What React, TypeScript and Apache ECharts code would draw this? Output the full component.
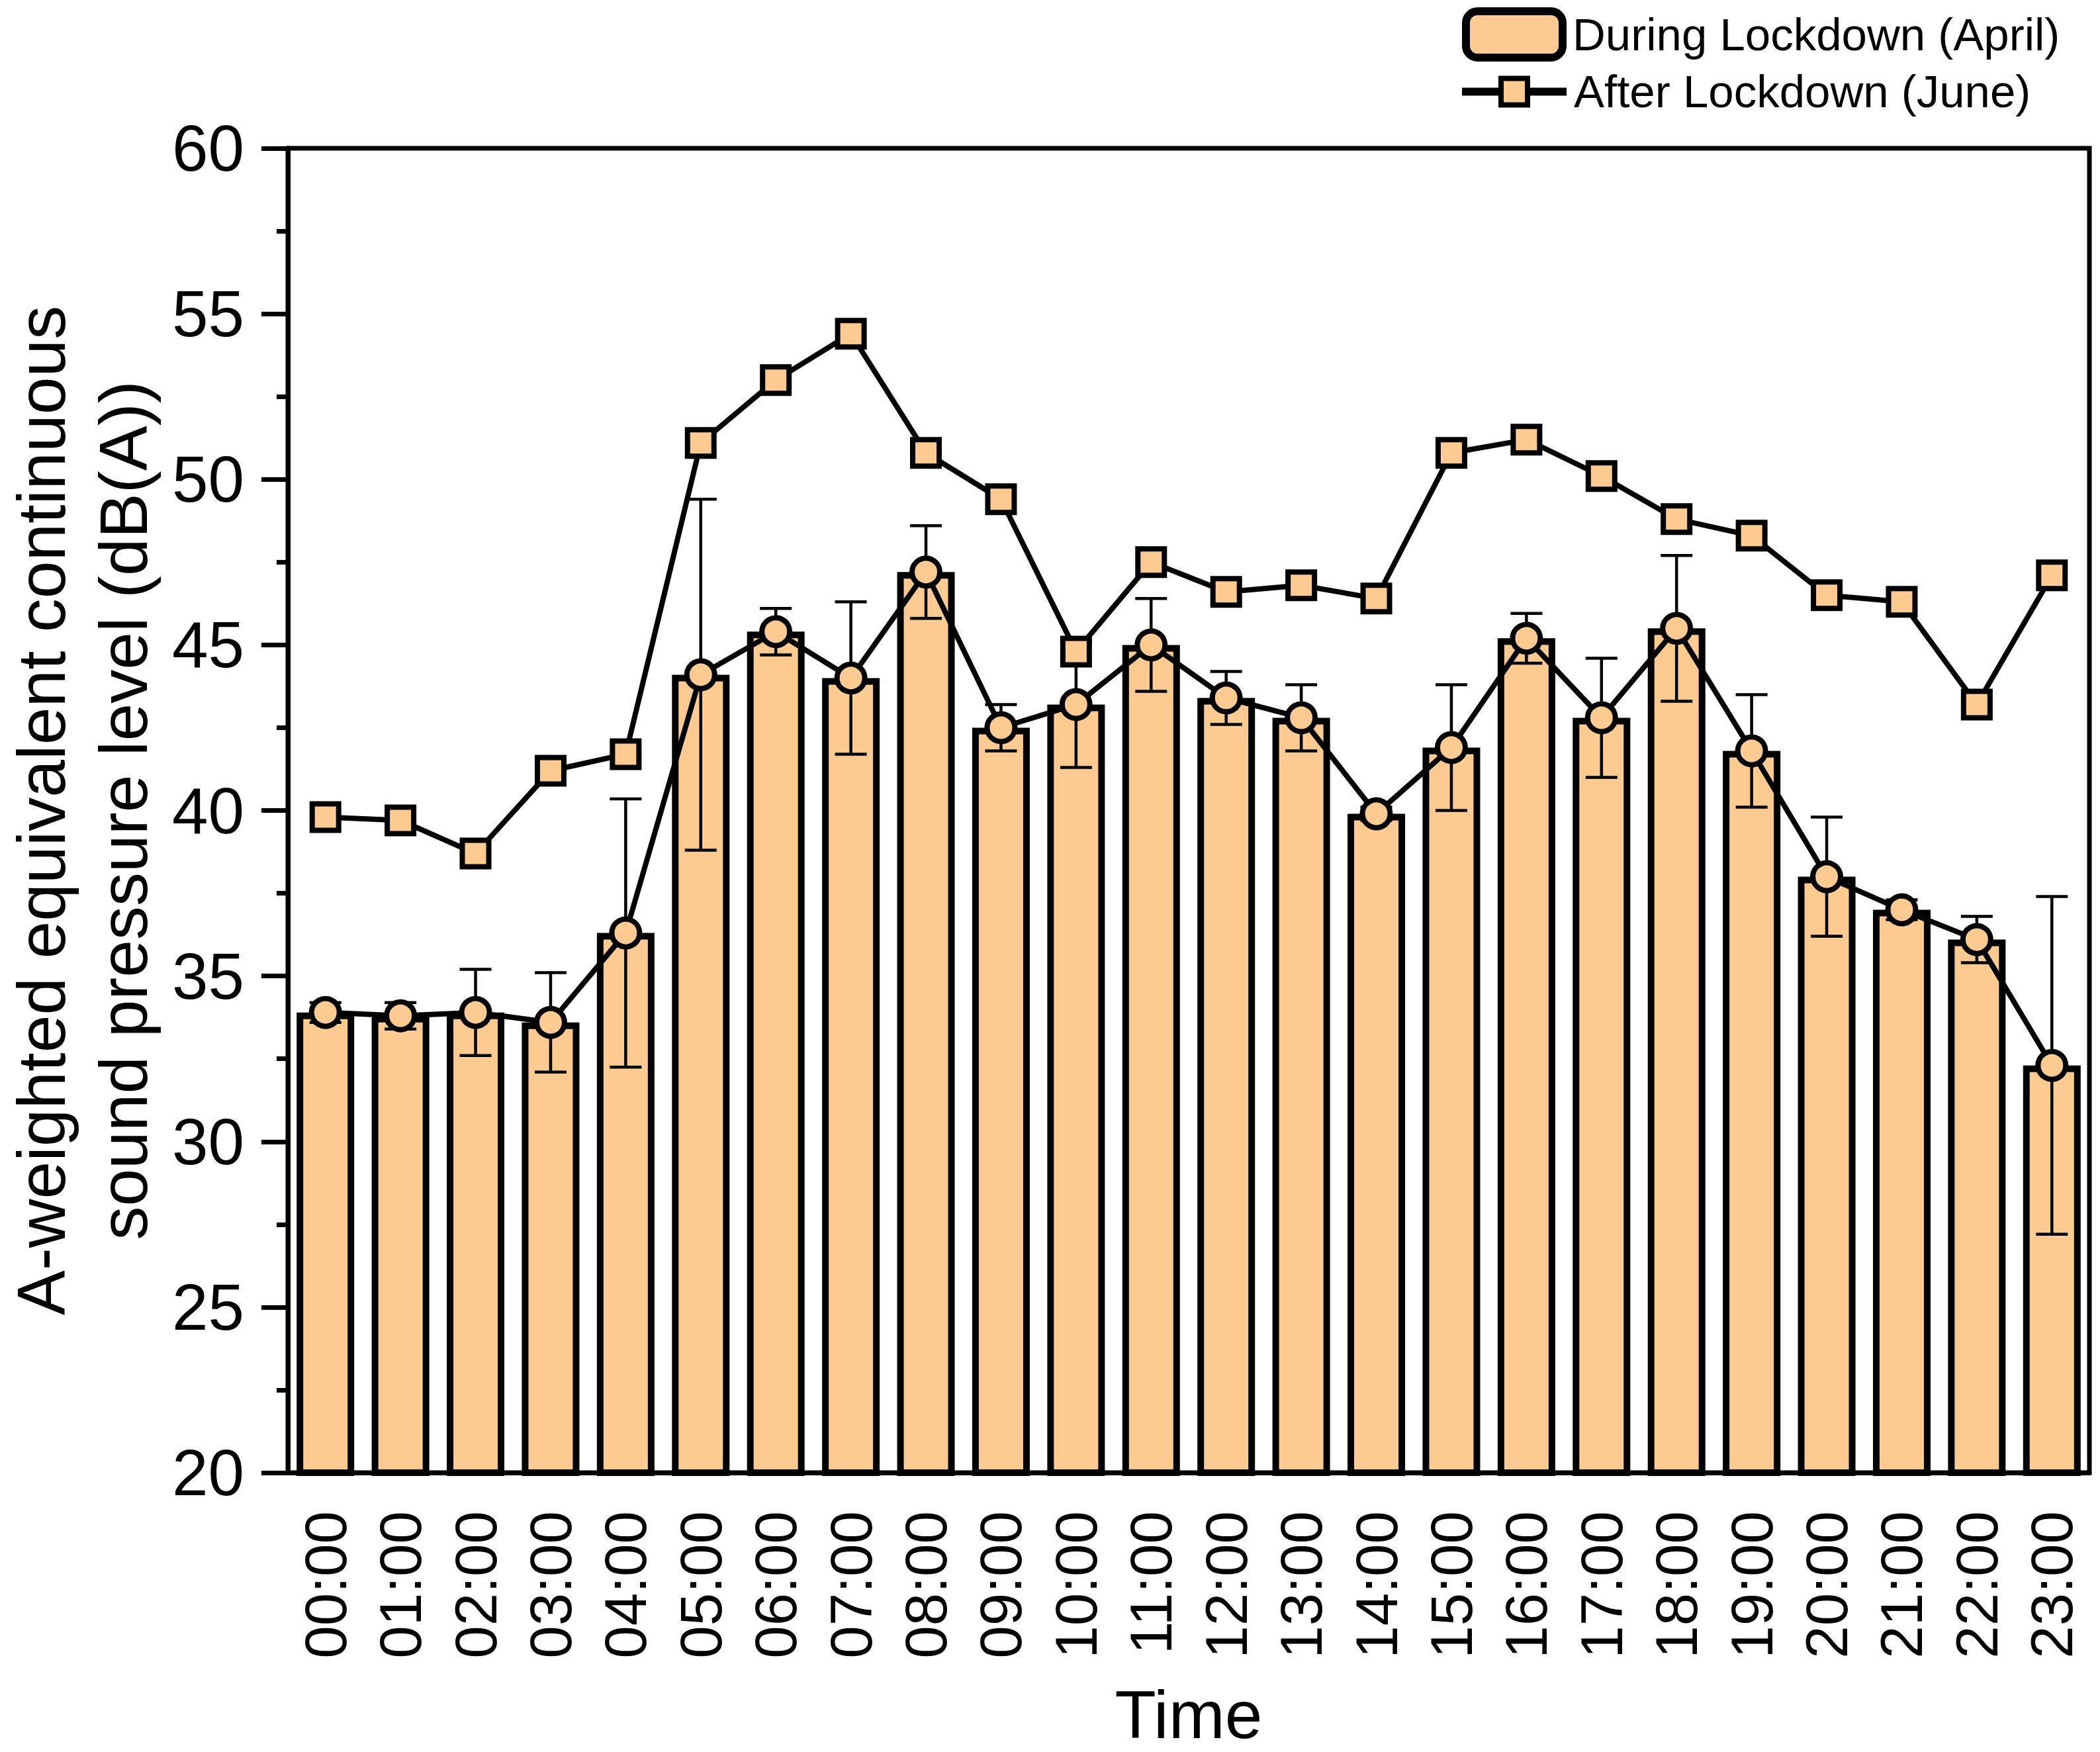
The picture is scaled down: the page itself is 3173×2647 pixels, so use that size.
import React, { useEffect, useRef } from "react";
import * as echarts from "echarts";

const hours = [
  "00:00", "01:00", "02:00", "03:00", "04:00", "05:00", "06:00", "07:00",
  "08:00", "09:00", "10:00", "11:00", "12:00", "13:00", "14:00", "15:00",
  "16:00", "17:00", "18:00", "19:00", "20:00", "21:00", "22:00", "23:00",
];
const duringLockdown = [
  33.9, 33.8, 33.9, 33.6, 36.3, 44.1, 45.4, 44.0, 47.2, 42.5, 43.2, 45.0,
  43.4, 42.8, 39.9, 41.9, 45.2, 42.8, 45.5, 41.8, 38.0, 37.0, 36.1, 32.3,
];
const duringError = [
  0.3, 0.4, 1.3, 1.5, 4.05, 5.3, 0.7, 2.3, 1.4, 0.7, 1.9, 1.4,
  0.8, 1.0, 0.2, 1.9, 0.75, 1.8, 2.2, 1.7, 1.8, 0.3, 0.7, 5.1,
];
const afterLockdown = [
  39.8, 39.7, 38.7, 41.2, 41.7, 51.1, 53.0, 54.4, 50.8, 49.4, 44.8, 47.5,
  46.6, 46.8, 46.4, 50.8, 51.2, 50.1, 48.8, 48.3, 46.5, 46.3, 43.2, 47.1,
];
const yTicks = { min: 20, max: 60, interval: 5 };

const FILL = "#FDCA92";
const FONT = "Liberation Sans, Arial, sans-serif";
const NAME_DURING = "During Lockdown (April)";
const NAME_AFTER = "After Lockdown (June)";

export default function App() {
  const ref = useRef<HTMLDivElement>(null);

  useEffect(() => {
    document.body.style.margin = "0";
    if (!ref.current) return;
    const chart = echarts.init(ref.current, undefined, { renderer: "svg" });

    const errData = hours.map((_, i) => [
      i,
      duringLockdown[i] - duringError[i],
      duringLockdown[i] + duringError[i],
    ]);

    chart.setOption({
      animation: false,
      backgroundColor: "#ffffff",
      textStyle: { fontFamily: FONT, color: "#000" },
      legend: [
        {
          data: [NAME_DURING],
          left: 2209,
          top: 11,
          padding: 0,
          orient: "vertical",
          itemWidth: 146,
          itemHeight: 70,
          icon: "roundRect",
          itemStyle: { borderWidth: 12, borderColor: "#000", color: FILL },
          textStyle: { fontSize: 69, color: "#000", fontFamily: FONT, padding: [0, 0, 0, 10] },
          selectedMode: false,
        },
        {
          data: [NAME_AFTER],
          left: 2203,
          top: 104,
          padding: 0,
          orient: "vertical",
          itemWidth: 158,
          itemHeight: 50,
          lineStyle: { width: 12, color: "#000" },
          itemStyle: { borderWidth: 8, borderColor: "#000", color: FILL },
          textStyle: { fontSize: 69, color: "#000", fontFamily: FONT, padding: [0, 0, 0, 6] },
          selectedMode: false,
        },
      ],
      grid: {
        left: 435,
        right: 16,
        top: 224,
        bottom: 422,
        show: true,
        borderColor: "#000",
        borderWidth: 7,
        backgroundColor: "transparent",
        containLabel: false,
        outerBoundsMode: "none",
      },
      xAxis: {
        type: "category",
        data: hours,
        boundaryGap: true,
        name: "Time",
        nameLocation: "middle",
        nameGap: 314,
        nameTextStyle: { fontSize: 102, lineHeight: 104, color: "#000", fontFamily: FONT },
        axisLine: { lineStyle: { color: "#000", width: 7 } },
        axisTick: { alignWithLabel: true, interval: 0, length: 40, lineStyle: { color: "#000", width: 7 } },
        axisLabel: { rotate: 90, interval: 0, fontSize: 89, color: "#000", margin: 58, fontFamily: FONT },
        splitLine: { show: false },
      },
      yAxis: {
        type: "value",
        min: yTicks.min,
        max: yTicks.max,
        interval: yTicks.interval,
        name: "A-weighted equivalent continuous\nsound pressure level (dB(A))",
        nameLocation: "middle",
        nameRotate: 90,
        nameGap: 186,
        nameTextStyle: { fontSize: 102, lineHeight: 124, color: "#000", fontFamily: FONT },
        axisLine: { show: true, lineStyle: { color: "#000", width: 7 } },
        axisTick: { show: true, length: 40, lineStyle: { color: "#000", width: 7 } },
        minorTick: { show: true, splitNumber: 2, length: 17, lineStyle: { color: "#000", width: 7 } },
        axisLabel: { fontSize: 98, color: "#000", margin: 66, fontFamily: FONT },
        splitLine: { show: false },
        minorSplitLine: { show: false },
      },
      series: [
        {
          name: NAME_DURING,
          type: "bar",
          data: duringLockdown,
          barWidth: 87,
          itemStyle: { color: FILL, borderColor: "#000", borderWidth: 10 },
          z: 1,
        },
        {
          name: "During error",
          type: "custom",
          data: errData,
          encode: { x: 0, y: [1, 2] },
          z: 3,
          renderItem: (params: any, api: any) => {
            const idx = api.value(0);
            const lo = api.coord([idx, api.value(1)]);
            const hi = api.coord([idx, api.value(2)]);
            const hw = 24;
            const st = { stroke: "#000", lineWidth: 4.5 };
            return {
              type: "group",
              children: [
                { type: "line", shape: { x1: hi[0], y1: hi[1], x2: lo[0], y2: lo[1] }, style: st },
                { type: "line", shape: { x1: hi[0] - hw, y1: hi[1], x2: hi[0] + hw, y2: hi[1] }, style: st },
                { type: "line", shape: { x1: lo[0] - hw, y1: lo[1], x2: lo[0] + hw, y2: lo[1] }, style: st },
              ],
            };
          },
        },
        {
          name: "During line",
          type: "line",
          data: duringLockdown,
          symbol: "circle",
          symbolSize: 42,
          showAllSymbol: true,
          lineStyle: { color: "#000", width: 8 },
          itemStyle: { color: FILL, borderColor: "#000", borderWidth: 8 },
          z: 5,
        },
        {
          name: NAME_AFTER,
          type: "line",
          data: afterLockdown,
          symbol: "rect",
          symbolSize: 40,
          showAllSymbol: true,
          lineStyle: { color: "#000", width: 8 },
          itemStyle: { color: FILL, borderColor: "#000", borderWidth: 8 },
          z: 6,
        },
      ],
    });

    return () => chart.dispose();
  }, []);

  return <div ref={ref} style={{ width: 3173, height: 2647 }} />;
}
